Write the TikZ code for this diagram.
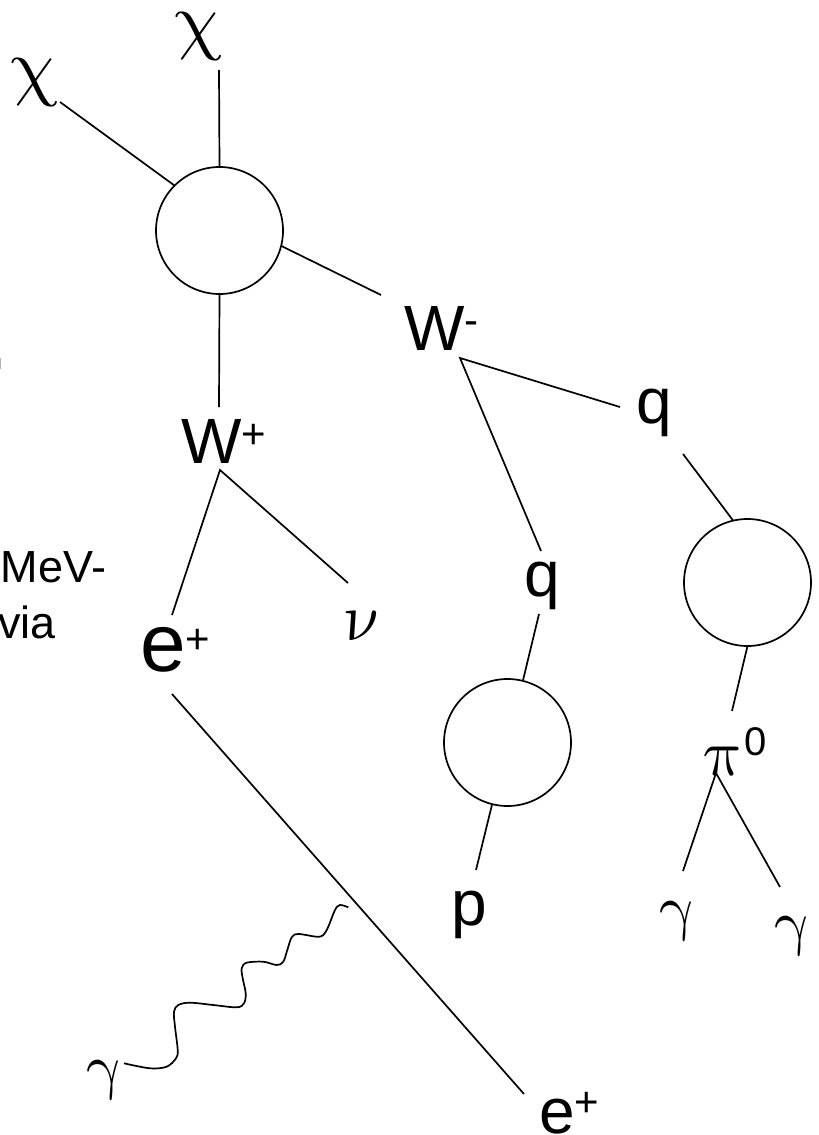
\documentclass[tikz,border=0pt]{standalone}
\usepackage{fontspec}
\setmainfont{Liberation Sans}
\newcommand{\supx}[3]{\raisebox{#1}{\fontsize{#2}{#2}\selectfont #3}}
\newcommand{\gsym}[2]{\scalebox{#1}{\fontsize{10}{12}\selectfont$#2$}}
\begin{document}
\begin{tikzpicture}[x=1pt,y=-1pt,
  lbl/.style={inner sep=0pt, outer sep=0pt, font=\fontsize{64}{70}\selectfont},
  gr/.style={inner sep=0pt, outer sep=0pt, xslant=-0.18, transform shape},
  big/.style={inner sep=0pt, outer sep=0pt, font=\fontsize{82}{88}\selectfont},
  small/.style={inner sep=0pt, outer sep=0pt, font=\fontsize{45}{50}\selectfont},
  blob/.style={circle, draw, line width=1.7pt, minimum size=127pt, inner sep=0pt, outer sep=0pt},
  ln/.style={line width=1.7pt}]
\clip (0,0) rectangle (819,1135);
\fill[white] (0,0) rectangle (819,1135);

% blobs
\node[blob] (c1) at (219.5,230.5) {};
\node[blob] (c2) at (507.5,742.5) {};
\node[blob] (c3) at (747.5,582.5) {};

% greek labels (upright-slanted math letters)
\begin{scope}[shift={(200,45)}]
  \node[gr, anchor=base] (chitop) at (0,0) {\gsym{7.6}{\chi}};
\end{scope}
\begin{scope}[shift={(36,91)}]
  \node[gr, anchor=base] (chileft) at (0,0) {\gsym{7.6}{\chi}};
\end{scope}
\begin{scope}[shift={(365,640)}]
  \node[gr, anchor=base] (nu) at (0,0) {\gsym{6.7}{\nu}};
\end{scope}
\begin{scope}[shift={(726,775)}]
  \node[gr, anchor=base] (pi) at (0,0) {\gsym{6.6}{\pi}};
\end{scope}
\begin{scope}[shift={(680,928)}]
  \node[gr, anchor=base] (g1) at (0,0) {\gsym{6.2}{\gamma}};
\end{scope}
\begin{scope}[shift={(795,943)}]
  \node[gr, anchor=base] (g2) at (0,0) {\gsym{6.2}{\gamma}};
\end{scope}
\begin{scope}[shift={(107,1087)}]
  \node[gr, anchor=base] (g3) at (0,0) {\gsym{6.2}{\gamma}};
\end{scope}

% latin labels
\node[lbl, anchor=base west] (wp) at (181,463) {W\supx{15pt}{42}{+}};
\node[lbl, anchor=base west] (wm) at (404,350) {W\supx{16pt}{42}{-}};
\node[big, anchor=base west] (ep1) at (140,671) {e\supx{18pt}{42}{+}};
\node[lbl, anchor=base west] (q1) at (636,423) {q};
\node[lbl, anchor=base west] (q2) at (524,596) {q};
\node[lbl, anchor=base west] (p) at (451,925) {p};
\node[inner sep=0pt, anchor=base west, font=\fontsize{40}{40}\selectfont] (pizero) at (744,755) {0};
\node[lbl, anchor=base west] (ep2) at (539,1133) {e\supx{17pt}{42}{+}};
\node[small, anchor=base east] (mev) at (106,582) {MeV-};
\node[small, anchor=base east] (via) at (56,638) {via};
\fill[gray!60] (0,358) rectangle (1.2,369);

% connector ends
\coordinate (chitopE) at (219,70);
\coordinate (chileftE) at (60,102);
\coordinate (wpTop) at (219,407);
\coordinate (wmIn) at (381,295);
\coordinate (wpApex) at (220,470);
\coordinate (ep1E) at (172,615);
\coordinate (nuE) at (348,583);
\coordinate (wmApex) at (460,358);
\coordinate (q1In) at (620,407);
\coordinate (q2In) at (541,551);
\coordinate (q1Out) at (683,454);
\coordinate (piIn) at (732,711);
\coordinate (q2Out) at (539,614);
\coordinate (pIn) at (476,870);
\coordinate (piApex) at (716,773);
\coordinate (g1E) at (683,871);
\coordinate (g2E) at (780,887);
\coordinate (ep1Out) at (172,694);
\coordinate (ep2In) at (524,1094);
\coordinate (g3E) at (124,1063.3);
\coordinate (phE) at (348.3,907.3);

% connectors
\draw[ln] (c1.north) -- (chitopE);
\draw[ln] (c1.135) -- (chileftE);
\draw[ln] (c1.south) -- (wpTop);
\draw[ln] (c1.-14) -- (wmIn);
\draw[ln] (ep1E) -- (wpApex) -- (nuE);
\draw[ln] (q1In) -- (wmApex) -- (q2In);
\draw[ln] (q1Out) -- (c3.103);
\draw[ln] (c3.south) -- (piIn);
\draw[ln] (q2Out) -- (c2.76);
\draw[ln] (c2.-104) -- (pIn);
\draw[ln] (g1E) -- (piApex) -- (g2E);
\draw[ln] (ep1Out) -- (ep2In);
\draw[ln] plot[smooth, tension=0.55] coordinates {(g3E) (150,1068.3) (166.7,1066.7) (176,1058.3) (177.7,1050) (175,1026.7) (174,1011.7) (178.3,1005) (190,1002.7) (213.3,1005) (236.7,1007.3) (244,1003.3) (245.7,993.3) (242.7,978.3) (241.7,968.3) (246.7,962.7) (263.3,961.7) (276.7,965) (283.3,961.7) (287.3,950) (291.7,937.3) (298.3,934) (316.7,936.7) (323.3,935) (328.3,926.7) (335,910) (340,905) (phE)};
\end{tikzpicture}
\end{document}
